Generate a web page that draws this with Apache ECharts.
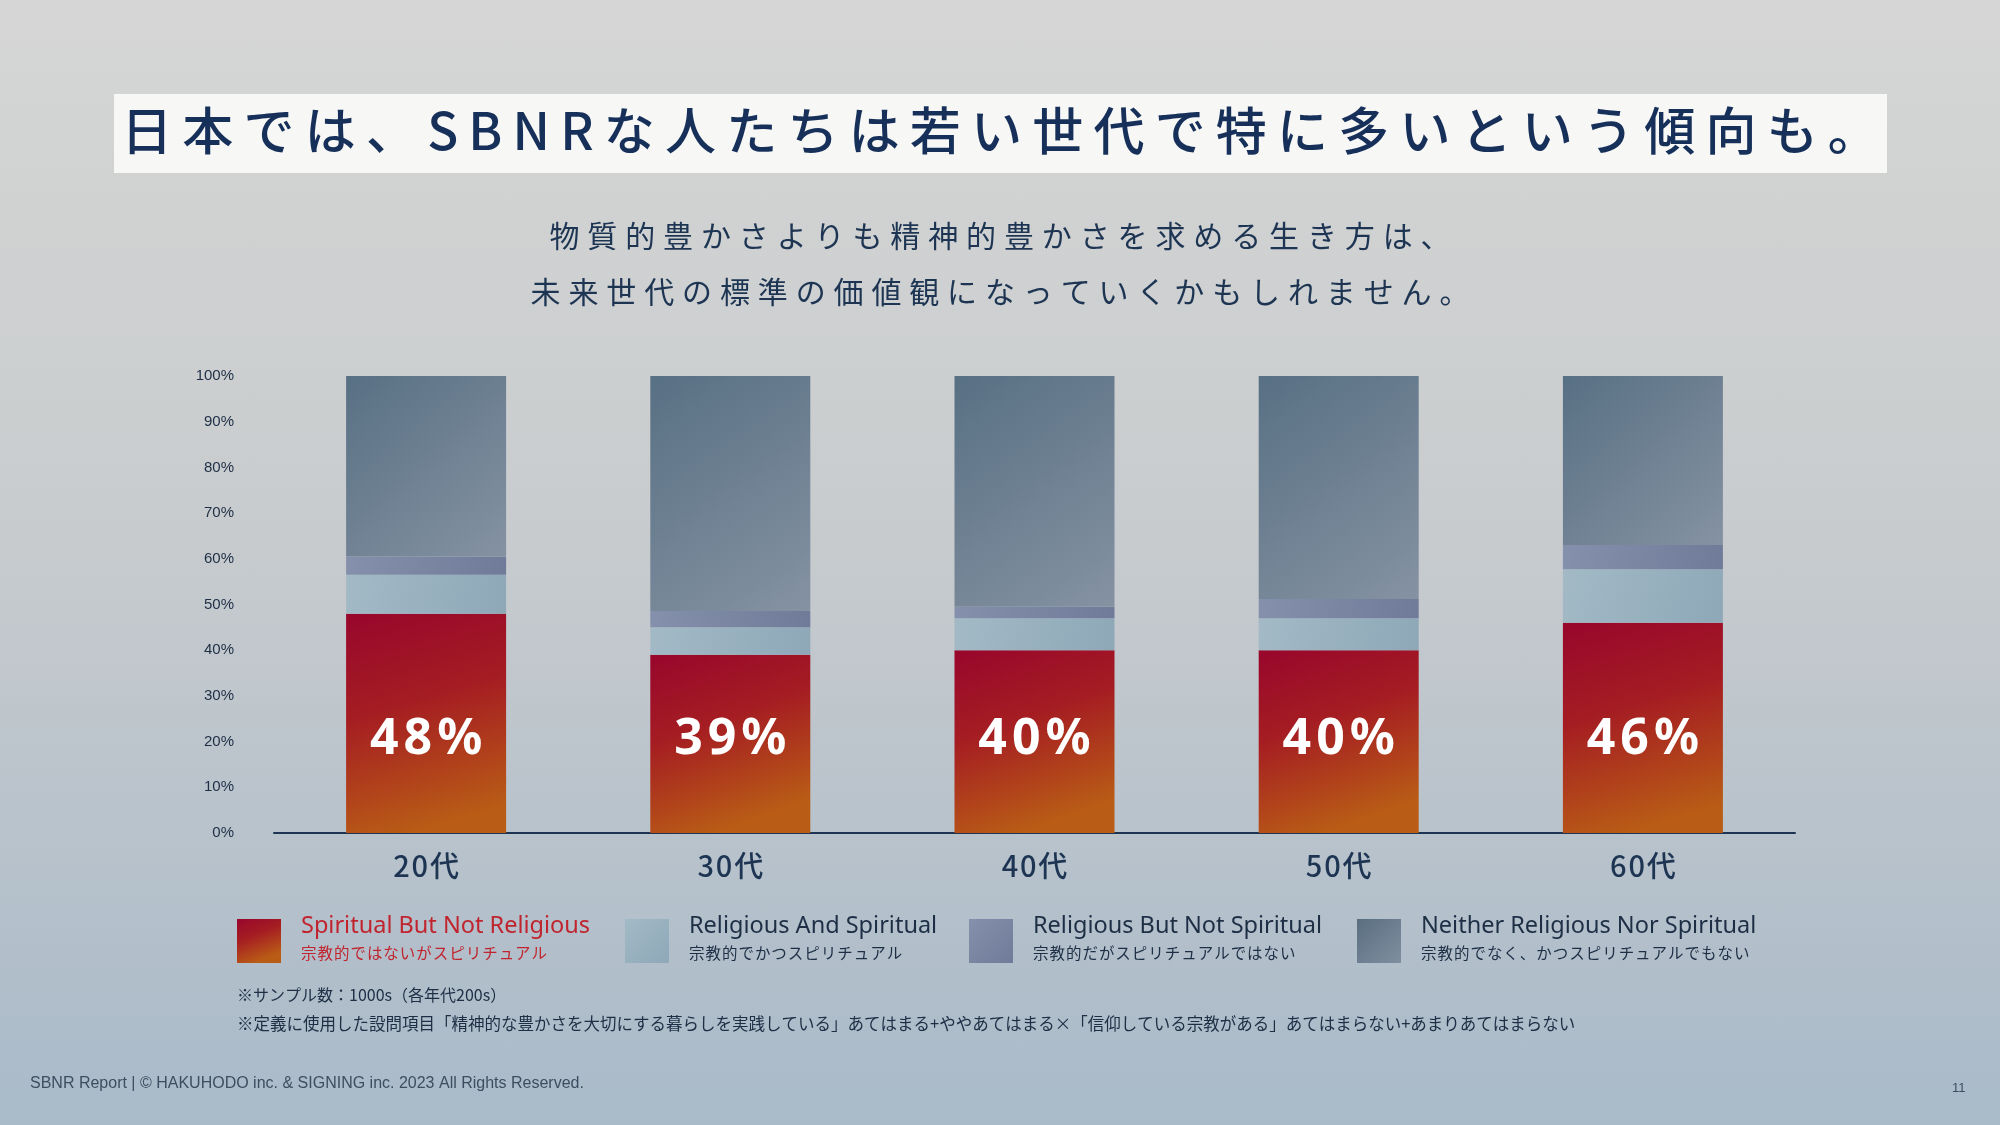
<!DOCTYPE html>
<html><head><meta charset="utf-8">
<script src="https://cdn.jsdelivr.net/npm/echarts@6/dist/echarts.min.js"></script>
<style>html,body{margin:0;padding:0;width:2000px;height:1125px;overflow:hidden}
#c{width:2000px;height:1125px;background:linear-gradient(180deg,#d5d6d5 0%,#c9ccce 45%,#a9bac9 100%)}</style>
</head><body><div id="c"></div>
<script>
const categories = ['20代','30代','40代','50代','60代'];
const sbnr = [48,39,40,40,46];
const ras = [8.5,6,7,7,11.7];
const rbns = [4,3.6,2.5,4.2,5.3];
const neither = [39.5,51.4,50.5,48.8,37];
const yTicks = [0,10,20,30,40,50,60,70,80,90,100];
const F = '"Noto Sans CJK JP","Noto Sans",sans-serif';
const sp = (t,s)=>Array.from(t).join(s);
const TH='\u2009', HA='\u200A';
const chart = echarts.init(document.getElementById('c'));
const lg = (a,b)=>new echarts.graphic.LinearGradient(0,0,1,1,[{offset:0,color:a},{offset:1,color:b}]);
const redG = new echarts.graphic.LinearGradient(0,0,0.4,1,[{offset:0,color:'#98062c'},{offset:0.45,color:'#a51d22'},{offset:1,color:'#b95c16'}]);
const legendItems = [
 {x:237,en:'Spiritual But Not Religious',jp:'宗教的ではないがスピリチュアル',c:'#c0242e',fill:redG},
 {x:625,en:'Religious And Spiritual',jp:'宗教的でかつスピリチュアル',c:'#1d2e45',fill:lg('#a3bac6','#8ea8b8')},
 {x:969,en:'Religious But Not Spiritual',jp:'宗教的だがスピリチュアルではない',c:'#1d2e45',fill:lg('#8590ac','#6f7b98')},
 {x:1357,en:'Neither Religious Nor Spiritual',jp:'宗教的でなく、かつスピリチュアルでもない',c:'#1d2e45',fill:lg('#5a6e80','#7f8fa0')}
];
const g = [
 {type:'rect',shape:{x:114,y:94,width:1773,height:79},style:{fill:'#f7f7f6'}},
 {type:'text',left:'center',top:105,style:{text:sp('日本では、SBNRな人たちは若い世代で特に多いという傾向も。',TH),font:'500 51px '+F,fill:'#16305a'}},
 {type:'text',left:'center',top:221,style:{text:sp('物質的豊かさよりも精神的豊かさを求める生き方は、',TH+HA),font:'30px '+F,fill:'#1d3553'}},
 {type:'text',left:'center',top:277,style:{text:sp('未来世代の標準の価値観になっていくかもしれません。',TH+HA),font:'30px '+F,fill:'#1d3553'}},
 {type:'text',left:237,top:987,style:{text:'※サンプル数：1000s（各年代200s）',font:'16px '+F,fill:'#1d2e45'}},
 {type:'text',left:237,top:1015,style:{text:'※定義に使用した設問項目「精神的な豊かさを大切にする暮らしを実践している」あてはまる+ややあてはまる×「信仰している宗教がある」あてはまらない+あまりあてはまらない',font:'16.5px '+F,fill:'#1d2e45'}},
 {type:'text',left:30,top:1076,style:{text:'SBNR Report | © HAKUHODO inc. & SIGNING inc. 2023 All Rights Reserved.',font:'16px "Liberation Sans",sans-serif',fill:'#3d4e60'}},
 {type:'text',left:1952,top:1082,style:{text:'11',font:'13px "Liberation Sans",sans-serif',fill:'#3d4e60'}}
];
legendItems.forEach(it=>{
 g.push({type:'rect',shape:{x:it.x,y:919,width:44,height:44},style:{fill:it.fill}});
 g.push({type:'text',left:it.x+64,top:914,style:{text:it.en,font:'23.5px "Noto Sans",sans-serif',fill:it.c}});
 g.push({type:'text',left:it.x+64,top:945,style:{text:sp(it.jp,HA),font:'15.5px '+F,fill:it.c}});
});
const mk = (name,data,fill,label)=>({name,type:'bar',stack:'a',data,barWidth:160,itemStyle:{color:fill},
 label:label?{show:true,position:'insideBottom',distance:68,formatter:p=>sp(p.value+'%',HA),color:'#fff',fontSize:50,fontWeight:'bold',fontFamily:'"Noto Sans",sans-serif'}:{show:false}});
chart.setOption({
 animation:false,
 grid:{left:274,right:205,top:376,bottom:292},
 xAxis:{type:'category',data:categories,axisLine:{lineStyle:{color:'#1d3553',width:2}},axisTick:{show:false},
  axisLabel:{color:'#1d3553',fontSize:29,fontWeight:500,margin:18,fontFamily:F,formatter:v=>sp(v,HA)}},
 yAxis:{type:'value',min:0,max:100,interval:10,splitLine:{show:false},
  axisLabel:{formatter:v=>yTicks.includes(v)?v+'%':'',color:'#1d2e45',fontSize:15,margin:40,fontFamily:'"Liberation Sans",sans-serif'}},
 series:[
  mk('Spiritual But Not Religious',sbnr,redG,true),
  mk('Religious And Spiritual',ras,lg('#a3bac6','#8ea8b8')),
  mk('Religious But Not Spiritual',rbns,lg('#8590ac','#6f7b98')),
  mk('Neither Religious Nor Spiritual',neither,new echarts.graphic.LinearGradient(0,0,1,1,[{offset:0,color:'#587084'},{offset:1,color:'#8592a2'}]))
 ],
 graphic:g
});
</script></body></html>
